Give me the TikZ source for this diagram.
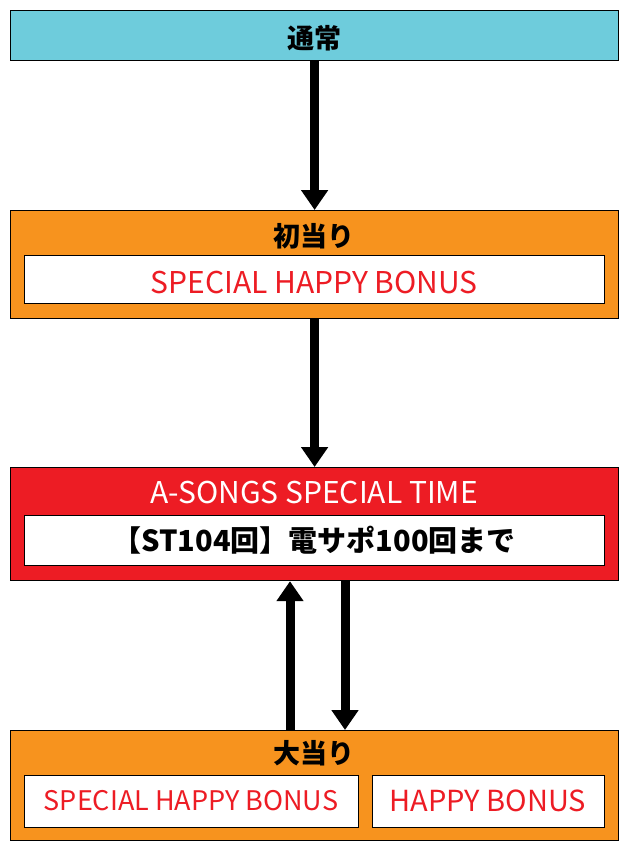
\documentclass[tikz,border=0pt]{standalone}
\usepackage{fontspec}
\setmainfont{Noto Sans CJK JP}
\usetikzlibrary{arrows.meta}
\definecolor{cy}{HTML}{6ECCDC}
\definecolor{org}{HTML}{F7931E}
\definecolor{rd}{HTML}{ED1C24}
\tikzset{
 box/.style={draw=black,line width=1.2pt,inner sep=0pt,anchor=north west},
 inner/.style={draw=black,line width=1.2pt,fill=white,inner sep=0pt,anchor=north west},
 arr/.style={line width=9pt,-{Triangle[width=26pt,length=20pt]}},
 ttl/.style={font=\fontsize{27}{30}\selectfont\bfseries},
 red/.style={text=rd,font=\fontsize{30}{34}\selectfont}
}
\begin{document}
\begin{tikzpicture}[x=1pt,y=-1pt]
\useasboundingbox (0,0) rectangle (629,853);
\node[box,fill=cy,minimum width=608pt,minimum height=50pt] (n) at (10,10) {};
\node[ttl] at (314,38) {通常};
\node[box,fill=org,minimum width=608pt,minimum height=108pt] (h) at (10,210) {};
\node[ttl] at (314,236) {初当り};
\node[inner,minimum width=580pt,minimum height=48pt] (hi) at (24,255) {};
\node[red] at (314,283) {SPECIAL HAPPY BONUS};
\node[box,fill=rd,minimum width=608pt,minimum height=113pt] (s) at (10,467) {};
\node[text=white,font=\fontsize{30}{34}\selectfont] at (314,492) {A-SONGS SPECIAL TIME};
\node[inner,minimum width=580pt,minimum height=50pt] (si) at (24,515) {};
\node[font=\fontsize{29}{32}\selectfont\bfseries] at (314,540) {【ST104回】電サポ100回まで};
\node[box,fill=org,minimum width=608pt,minimum height=110pt] (b) at (10,730) {};
\node[ttl] at (314,753) {大当り};
\node[inner,minimum width=334pt,minimum height=52pt] (b1) at (24,775) {};
\node[red,font=\fontsize{27}{30}\selectfont] at (191,801) {SPECIAL HAPPY BONUS};
\node[inner,minimum width=232pt,minimum height=52pt] (b2) at (372,775) {};
\node[red,font=\fontsize{29}{32}\selectfont] at (488,801) {HAPPY BONUS};
\draw[arr] (n.south) -- (h.north);
\draw[arr] (h.south) -- (s.north);
\draw[arr] (b.north -| 290,0) -- (s.south -| 290,0);
\draw[arr] (s.south -| 345,0) -- (b.north -| 345,0);
\end{tikzpicture}
\end{document}
